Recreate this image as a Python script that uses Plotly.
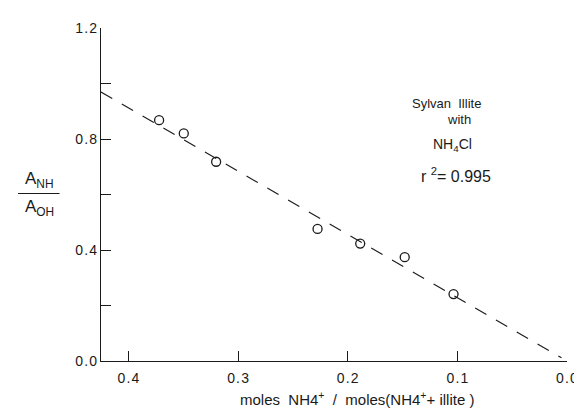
import plotly.graph_objects as go

# Data
x_frac = [0.372, 0.3495, 0.320, 0.2275, 0.1886, 0.148, 0.1035]
a_ratio = [0.868, 0.820, 0.718, 0.476, 0.423, 0.374, 0.241]
fit_slope = 2.28
fit_intercept = 0.0
fit_x = [0.425, 0.005]
fit_y = [fit_intercept + fit_slope * v for v in fit_x]

x_ticks = [0.4, 0.3, 0.2, 0.1, 0.0]
x_ticktext = ["0.4", "0.3", "0.2", "0.1", "0.0"]
y_ticks = [0.0, 0.4, 0.8, 1.2]
y_ticktext = ["0.0", "0.4", "0.8", "1.2"]

W, H = 582, 410
L, R, T, B = 93, 17, 19, 57
pw, ph = W - L - R, H - T - B


def px(xp):
    return (xp - L) / pw


def py(yp):
    return (H - B - yp) / ph


def spaced(s):
    return "\u200a".join(s)


FONT = "Liberation Sans, Arial, Helvetica, sans-serif"
INK = "#1a1a1a"

fig = go.Figure()
fig.add_trace(go.Scatter(
    x=fit_x, y=fit_y, mode="lines",
    line=dict(color=INK, width=1.1, dash="13px,11px"),
    showlegend=False, hoverinfo="skip"))
fig.add_trace(go.Scatter(
    x=x_frac, y=a_ratio, mode="markers",
    marker=dict(symbol="circle-open", size=9, color=INK, line=dict(width=1.3, color=INK)),
    showlegend=False))

fig.update_layout(
    width=W, height=H,
    margin=dict(l=L, r=R, t=T, b=B),
    paper_bgcolor="white", plot_bgcolor="white",
    font=dict(family=FONT, size=14, color=INK),
    xaxis=dict(range=[0.425, 0.0], tickvals=x_ticks, ticktext=[spaced(t) for t in x_ticktext],
               ticks="inside", ticklen=10, tickwidth=1.2, tickcolor=INK,
               ticklabelstandoff=4,
               showline=True, linecolor=INK, linewidth=1.2,
               showgrid=False, zeroline=False, tickfont=dict(size=14)),
    yaxis=dict(range=[0.0, 1.2], tickvals=y_ticks, ticktext=[spaced(t) for t in y_ticktext],
               ticks="inside", ticklen=10, tickwidth=1.2, tickcolor=INK,
               minor=dict(dtick=0.2, tick0=0, ticks="inside", ticklen=10, tickwidth=1.2, tickcolor=INK),
               showline=True, linecolor=INK, linewidth=1.2,
               showgrid=False, zeroline=False, tickfont=dict(size=14)),
)

ann = [
    dict(text="Sylvan  Illite", x=px(443), y=py(95), size=13),
    dict(text="with", x=px(456), y=py(111), size=13),
    dict(text="NH<sub>4</sub>Cl", x=px(449), y=py(136), size=14),
    dict(text="r <sup>2</sup>= 0.995", x=px(453), y=py(166), size=16),
    dict(text="A<sub>NH</sub>", x=px(31), y=py(171), size=17),
    dict(text="A<sub>OH</sub>", x=px(31), y=py(200), size=17),
    dict(text="moles  NH4<sup>+</sup>  /  moles(NH4<sup>+</sup>+ illite )", x=px(352), y=py(391), size=15),
]
for a in ann:
    fig.add_annotation(text=a["text"], x=a["x"], y=a["y"], xref="paper", yref="paper",
                       xanchor="center", yanchor="middle", showarrow=False,
                       font=dict(family=FONT, size=a.get("size", 13), color=INK))

fig.add_shape(type="line", xref="paper", yref="paper",
              x0=px(9), x1=px(51), y0=py(185), y1=py(185),
              line=dict(color=INK, width=1.2))

fig.write_html("out.html")
